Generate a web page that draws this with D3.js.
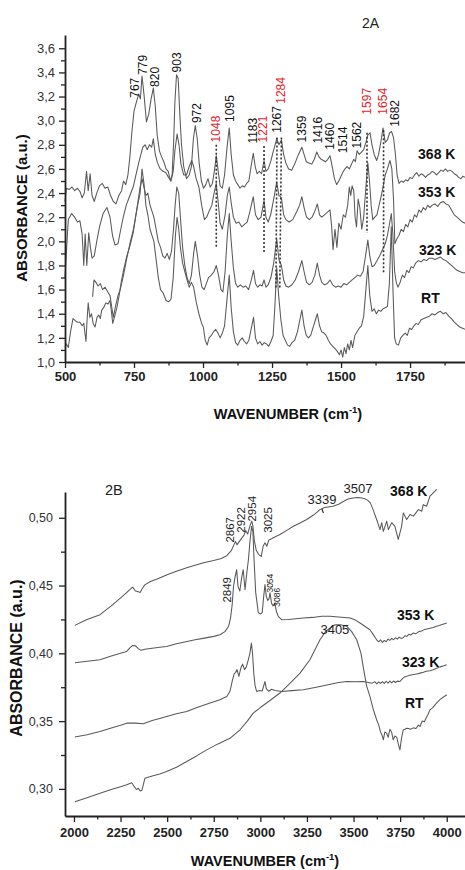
<!DOCTYPE html>
<html><head><meta charset="utf-8">
<script src="https://cdn.jsdelivr.net/npm/d3@7"></script>
<style>
body{margin:0;background:#fff}
svg{display:block}
text{font-family:"Liberation Sans",Arial,sans-serif}
</style>
</head><body>
<svg id="c" width="465" height="870"></svg>
<script>
// ---------------- Panel 2A data ----------------
const aXTicks = [500,750,1000,1250,1500,1750];
const aXMinor = [625,875,1125,1375,1625,1875];
const aYTicks = [1.0,1.2,1.4,1.6,1.8,2.0,2.2,2.4,2.6,2.8,3.0,3.2,3.4,3.6];
const aYMinor = [1.1,1.3,1.5,1.7,1.9,2.1,2.3,2.5,2.7,2.9,3.1,3.3,3.5];
const aSeriesNames = ["368 K","353 K","323 K","RT"];

const a368 = [[500,2.33],[505,2.44],[515,2.43],[525,2.45],[535,2.42],[545,2.44],[555,2.41],[562,2.36],[570,2.40],[578,2.58],[584,2.42],[591,2.56],[598,2.38],[606,2.33],[615,2.40],[625,2.46],[635,2.48],[645,2.44],[655,2.45],[665,2.38],[675,2.33],[685,2.31],[695,2.38],[705,2.42],[712,2.50],[720,2.47],[728,2.55],[735,2.70],[742,2.90],[750,3.08],[758,3.15],[767,3.22],[773,3.18],[779,3.37],[786,3.22],[795,2.99],[803,3.05],[812,3.18],[820,3.27],[827,3.12],[834,2.88],[842,2.75],[850,2.70],[858,2.66],[866,2.60],[874,2.58],[882,2.50],[888,2.55],[894,2.85],[898,3.15],[904,3.38],[910,3.35],[916,3.05],[922,2.80],[930,2.62],[940,2.52],[950,2.55],[958,2.62],[965,2.85],[972,2.96],[979,2.85],[986,2.65],[994,2.50],[1002,2.44],[1010,2.47],[1018,2.52],[1026,2.45],[1034,2.48],[1041,2.58],[1048,2.71],[1055,2.58],[1062,2.46],[1070,2.44],[1078,2.55],[1087,2.78],[1095,2.94],[1102,2.72],[1110,2.55],[1118,2.50],[1126,2.47],[1134,2.44],[1142,2.46],[1150,2.45],[1158,2.48],[1166,2.50],[1174,2.62],[1182,2.73],[1189,2.62],[1196,2.56],[1204,2.58],[1212,2.56],[1221,2.67],[1228,2.58],[1236,2.60],[1245,2.66],[1255,2.75],[1267,2.85],[1275,2.80],[1284,2.84],[1292,2.72],[1300,2.65],[1310,2.60],[1321,2.59],[1332,2.64],[1342,2.70],[1350,2.74],[1358,2.78],[1366,2.72],[1374,2.66],[1384,2.65],[1394,2.64],[1403,2.68],[1412,2.74],[1420,2.70],[1428,2.68],[1436,2.67],[1444,2.66],[1452,2.68],[1460,2.71],[1468,2.62],[1476,2.52],[1484,2.47],[1492,2.50],[1500,2.54],[1508,2.58],[1514,2.60],[1522,2.62],[1530,2.60],[1538,2.64],[1546,2.68],[1552,2.66],[1558,2.75],[1566,2.72],[1574,2.74],[1582,2.76],[1590,2.82],[1597,2.88],[1605,2.90],[1612,2.80],[1620,2.72],[1629,2.67],[1636,2.72],[1644,2.82],[1652,2.94],[1660,2.82],[1668,2.84],[1676,2.90],[1683,2.91],[1690,2.86],[1697,2.72],[1703,2.55],[1710,2.48],[1718,2.50],[1726,2.49],[1734,2.51],[1742,2.50],[1750,2.53],[1758,2.52],[1766,2.55],[1774,2.57],[1782,2.54],[1790,2.56],[1798,2.55],[1806,2.53],[1814,2.55],[1822,2.56],[1830,2.58],[1838,2.57],[1846,2.55],[1854,2.57],[1862,2.59],[1870,2.58],[1878,2.60],[1886,2.58],[1894,2.59],[1902,2.58],[1910,2.56],[1918,2.55],[1926,2.53],[1934,2.52],[1942,2.54],[1950,2.53]];

const a353 = [[500,1.70],[506,1.95],[512,2.18],[524,2.23],[535,2.20],[545,2.16],[554,2.17],[562,2.06],[568,1.80],[573,2.06],[579,1.80],[586,2.07],[592,1.95],[598,1.86],[606,1.88],[615,2.00],[625,2.12],[638,2.23],[652,2.28],[663,2.20],[672,2.05],[681,1.97],[692,1.98],[702,2.10],[711,2.20],[722,2.30],[735,2.38],[747,2.45],[757,2.55],[767,2.65],[775,2.72],[782,2.78],[790,2.80],[798,2.76],[806,2.80],[814,2.78],[820,2.85],[827,2.72],[835,2.65],[845,2.60],[855,2.58],[865,2.57],[875,2.53],[884,2.50],[892,2.58],[898,2.75],[906,2.89],[913,2.80],[920,2.64],[930,2.55],[940,2.55],[950,2.62],[959,2.67],[966,2.62],[975,2.52],[985,2.45],[995,2.30],[1005,2.18],[1013,2.20],[1022,2.25],[1032,2.30],[1040,2.40],[1048,2.48],[1055,2.32],[1062,2.15],[1070,2.10],[1080,2.22],[1088,2.38],[1095,2.45],[1102,2.32],[1110,2.20],[1120,2.15],[1130,2.16],[1140,2.12],[1150,2.14],[1160,2.16],[1170,2.25],[1182,2.37],[1190,2.22],[1200,2.18],[1210,2.20],[1221,2.34],[1228,2.20],[1236,2.16],[1245,2.22],[1256,2.35],[1267,2.49],[1275,2.38],[1284,2.36],[1292,2.22],[1300,2.18],[1312,2.16],[1325,2.18],[1340,2.25],[1350,2.30],[1358,2.37],[1366,2.28],[1375,2.20],[1385,2.18],[1395,2.20],[1405,2.25],[1414,2.31],[1422,2.22],[1430,2.20],[1440,2.22],[1450,2.24],[1460,2.26],[1466,2.12],[1471,1.93],[1478,2.10],[1485,1.95],[1492,2.15],[1500,2.10],[1508,2.22],[1516,2.20],[1524,2.30],[1530,2.45],[1535,2.38],[1540,2.46],[1546,2.42],[1551,2.20],[1556,2.12],[1562,2.35],[1568,2.28],[1575,2.10],[1582,2.20],[1590,2.45],[1597,2.65],[1603,2.50],[1609,2.30],[1615,2.18],[1622,2.20],[1630,2.22],[1638,2.30],[1646,2.38],[1652,2.45],[1660,2.55],[1668,2.60],[1677,2.67],[1684,2.60],[1690,2.35],[1695,1.98],[1702,2.02],[1710,2.05],[1718,2.10],[1726,2.08],[1734,2.14],[1742,2.12],[1750,2.18],[1758,2.16],[1766,2.22],[1774,2.20],[1782,2.26],[1790,2.24],[1798,2.28],[1806,2.26],[1814,2.30],[1822,2.28],[1830,2.30],[1840,2.31],[1850,2.29],[1860,2.32],[1870,2.33],[1880,2.31],[1890,2.30],[1900,2.26],[1910,2.22],[1920,2.20],[1930,2.18],[1940,2.16],[1950,2.15]];

const a323 = [[600,1.54],[605,1.68],[612,1.66],[620,1.63],[628,1.65],[636,1.60],[645,1.62],[655,1.58],[663,1.55],[669,1.46],[675,1.37],[682,1.45],[692,1.55],[700,1.60],[712,1.72],[723,1.85],[735,1.98],[747,2.09],[757,2.22],[765,2.34],[772,2.45],[779,2.52],[786,2.45],[793,2.38],[800,2.40],[808,2.30],[815,2.25],[822,2.20],[830,2.10],[838,2.00],[846,1.95],[854,1.88],[862,1.86],[870,1.90],[878,1.85],[886,1.92],[893,2.10],[899,2.30],[905,2.45],[912,2.40],[918,2.20],[926,1.95],[934,1.80],[942,1.70],[950,1.65],[958,1.72],[966,1.90],[972,2.00],[980,1.88],[988,1.72],[996,1.62],[1004,1.60],[1012,1.65],[1020,1.70],[1030,1.72],[1040,1.75],[1048,1.80],[1056,1.72],[1065,1.60],[1072,1.58],[1080,1.75],[1088,2.05],[1095,2.23],[1102,2.00],[1110,1.78],[1118,1.65],[1126,1.62],[1135,1.64],[1145,1.62],[1155,1.63],[1165,1.60],[1175,1.68],[1183,1.76],[1190,1.65],[1198,1.62],[1206,1.64],[1214,1.63],[1221,1.68],[1228,1.62],[1236,1.64],[1246,1.70],[1256,1.82],[1267,2.02],[1275,1.85],[1284,1.80],[1292,1.68],[1300,1.63],[1310,1.62],[1322,1.64],[1334,1.68],[1346,1.75],[1358,1.84],[1366,1.75],[1375,1.66],[1385,1.64],[1395,1.66],[1405,1.72],[1414,1.82],[1422,1.72],[1430,1.66],[1440,1.64],[1450,1.65],[1460,1.68],[1470,1.64],[1480,1.62],[1490,1.63],[1500,1.62],[1510,1.65],[1520,1.64],[1530,1.66],[1540,1.68],[1550,1.70],[1560,1.72],[1570,1.71],[1580,1.75],[1590,1.90],[1597,2.01],[1604,1.88],[1612,1.79],[1620,1.80],[1630,1.84],[1640,1.88],[1650,1.93],[1660,1.98],[1668,2.05],[1676,2.15],[1682,2.23],[1688,2.05],[1694,1.75],[1700,1.66],[1706,1.62],[1714,1.66],[1722,1.72],[1730,1.70],[1738,1.76],[1746,1.74],[1754,1.79],[1762,1.78],[1770,1.82],[1780,1.84],[1790,1.83],[1800,1.85],[1810,1.84],[1820,1.86],[1830,1.86],[1840,1.85],[1850,1.86],[1860,1.87],[1870,1.85],[1880,1.84],[1890,1.82],[1900,1.80],[1910,1.78],[1920,1.76],[1930,1.75],[1940,1.74],[1950,1.74]];

const aRT = [[500,1.12],[505,1.15],[512,1.12],[520,1.25],[529,1.36],[538,1.34],[546,1.33],[554,1.33],[562,1.30],[568,1.32],[576,1.17],[580,1.35],[584,1.49],[590,1.37],[596,1.40],[602,1.32],[609,1.29],[616,1.37],[622,1.39],[628,1.36],[633,1.43],[640,1.45],[648,1.49],[656,1.48],[663,1.51],[668,1.42],[673,1.32],[680,1.38],[688,1.45],[696,1.55],[705,1.68],[714,1.78],[723,1.87],[735,1.96],[747,2.07],[757,2.22],[765,2.32],[772,2.40],[779,2.60],[786,2.48],[793,2.30],[800,2.22],[808,2.10],[815,2.05],[822,2.00],[830,1.85],[838,1.70],[846,1.60],[856,1.57],[866,1.51],[876,1.50],[884,1.52],[892,1.70],[900,2.05],[906,2.20],[912,2.10],[918,1.95],[926,1.82],[934,1.75],[942,1.68],[950,1.62],[958,1.66],[966,1.62],[975,1.50],[985,1.40],[995,1.32],[1001,1.29],[1008,1.18],[1015,1.14],[1022,1.20],[1030,1.22],[1038,1.25],[1046,1.27],[1054,1.24],[1062,1.20],[1070,1.24],[1078,1.30],[1086,1.50],[1095,1.72],[1102,1.45],[1110,1.25],[1118,1.16],[1126,1.14],[1134,1.18],[1142,1.20],[1150,1.17],[1158,1.15],[1166,1.18],[1175,1.28],[1183,1.37],[1190,1.20],[1198,1.15],[1206,1.17],[1214,1.14],[1222,1.16],[1230,1.15],[1238,1.13],[1246,1.17],[1254,1.22],[1260,1.45],[1267,1.78],[1274,1.55],[1282,1.35],[1290,1.22],[1298,1.18],[1306,1.14],[1314,1.13],[1322,1.16],[1332,1.18],[1342,1.25],[1350,1.34],[1358,1.43],[1366,1.30],[1374,1.22],[1382,1.20],[1390,1.22],[1398,1.28],[1406,1.34],[1414,1.40],[1422,1.30],[1430,1.25],[1438,1.24],[1446,1.22],[1454,1.18],[1462,1.15],[1470,1.13],[1478,1.11],[1486,1.09],[1494,1.06],[1500,1.10],[1506,1.04],[1512,1.12],[1518,1.07],[1524,1.15],[1530,1.10],[1536,1.18],[1542,1.12],[1550,1.22],[1558,1.25],[1566,1.28],[1574,1.30],[1582,1.38],[1590,1.60],[1597,1.80],[1604,1.55],[1612,1.42],[1620,1.44],[1628,1.40],[1636,1.43],[1644,1.42],[1652,1.44],[1660,1.45],[1668,1.46],[1675,1.65],[1682,2.12],[1688,1.60],[1694,1.20],[1700,1.15],[1708,1.14],[1716,1.20],[1724,1.22],[1732,1.24],[1740,1.22],[1748,1.28],[1756,1.27],[1764,1.30],[1772,1.32],[1780,1.31],[1790,1.35],[1800,1.36],[1810,1.37],[1820,1.38],[1830,1.40],[1840,1.39],[1850,1.41],[1860,1.42],[1870,1.40],[1880,1.41],[1890,1.38],[1900,1.36],[1910,1.33],[1920,1.31],[1930,1.29],[1940,1.28],[1950,1.27]];

// peak annotations: [label, placed at wavenumber, absorbance at label foot]
const aPeaksBlack = [[767,754,3.19],[779,783,3.38],[820,826,3.28],[903,906,3.40],[972,978,2.98],[1095,1098,2.99],[1183,1181,2.81],[1267,1268,2.90],[1359,1359,2.82],[1416,1417,2.81],[1460,1460,2.76],[1514,1507,2.73],[1562,1558,2.77],[1682,1696,2.95]];
const aPeaksRed = [[1048,1047,2.82],[1221,1217,2.82],[1284,1283,3.14],[1597,1594,3.05],[1654,1652,3.05]];
// dotted guides: [wn top, abs top, wn bottom, abs bottom]
const aGuides = [[1048,2.80,1048,1.95],[1221,2.79,1221,1.91],[1268,2.86,1264,1.60],[1284,2.86,1278,1.60],[1594,2.90,1594,2.07],[1654,2.92,1654,1.74]];
const aSeriesLabelAt = [[1779,2.68],[1779,2.366],[1782,1.886],[1790,1.49]];

// ---------------- Panel 2B data ----------------
const bXTicks = [2000,2250,2500,2750,3000,3250,3500,3750,4000];
const bXMinor = [2125,2375,2625,2875,3125,3375,3625,3875];
const bYTicks = [0.30,0.35,0.40,0.45,0.50];
const bYMinor = [0.325,0.375,0.425,0.475];

const b368 = [[2005,0.4206],[2070,0.4250],[2140,0.4285],[2200,0.4350],[2260,0.4420],[2300,0.4470],[2315,0.4488],[2330,0.4460],[2345,0.4455],[2355,0.4448],[2365,0.4475],[2380,0.4505],[2410,0.4530],[2450,0.4550],[2500,0.4580],[2550,0.4605],[2605,0.4632],[2650,0.4650],[2700,0.4670],[2750,0.4685],[2790,0.4700],[2820,0.4720],[2845,0.4760],[2858,0.4800],[2867,0.4825],[2875,0.4800],[2885,0.4820],[2900,0.4850],[2912,0.4870],[2922,0.4905],[2932,0.4880],[2940,0.4920],[2948,0.4955],[2954,0.4975],[2960,0.4940],[2968,0.4830],[2978,0.4760],[2990,0.4730],[3005,0.4715],[3015,0.4790],[3025,0.4815],[3035,0.4790],[3045,0.4835],[3060,0.4845],[3080,0.4860],[3105,0.4876],[3140,0.4905],[3177,0.4937],[3210,0.4960],[3249,0.4987],[3285,0.5020],[3320,0.5060],[3345,0.5075],[3390,0.5085],[3420,0.5100],[3445,0.5120],[3470,0.5138],[3499,0.5146],[3520,0.5150],[3540,0.5148],[3560,0.5140],[3575,0.5130],[3590,0.5110],[3605,0.5060],[3615,0.5020],[3624,0.4987],[3642,0.4913],[3651,0.4964],[3660,0.4900],[3678,0.4975],[3687,0.4913],[3705,0.4964],[3722,0.4937],[3740,0.4840],[3758,0.4937],[3767,0.5036],[3785,0.4987],[3803,0.5024],[3821,0.5012],[3848,0.5060],[3866,0.5048],[3874,0.5097],[3892,0.5085],[3910,0.5159],[3928,0.5184],[3946,0.5210]];

const b353 = [[2005,0.3930],[2070,0.3942],[2140,0.3953],[2200,0.3980],[2250,0.4000],[2283,0.4014],[2300,0.4040],[2315,0.4058],[2330,0.4055],[2345,0.4035],[2360,0.4022],[2380,0.4030],[2420,0.4038],[2460,0.4045],[2497,0.4050],[2550,0.4070],[2600,0.4085],[2650,0.4100],[2700,0.4112],[2750,0.4125],[2783,0.4137],[2810,0.4160],[2830,0.4200],[2840,0.4260],[2849,0.4360],[2856,0.4494],[2864,0.4560],[2873,0.4617],[2880,0.4494],[2890,0.4460],[2900,0.4560],[2908,0.4617],[2918,0.4470],[2928,0.4600],[2936,0.4690],[2944,0.4820],[2953,0.4937],[2960,0.4900],[2966,0.4700],[2975,0.4450],[2989,0.4300],[3000,0.4290],[3010,0.4300],[3018,0.4420],[3025,0.4507],[3032,0.4420],[3040,0.4390],[3046,0.4400],[3052,0.4447],[3060,0.4370],[3068,0.4350],[3078,0.4370],[3086,0.4310],[3096,0.4273],[3114,0.4248],[3150,0.4250],[3190,0.4255],[3230,0.4260],[3280,0.4265],[3330,0.4273],[3374,0.4273],[3420,0.4268],[3482,0.4260],[3510,0.4245],[3535,0.4224],[3560,0.4200],[3588,0.4174],[3605,0.4140],[3624,0.4100],[3635,0.4085],[3645,0.4100],[3655,0.4080],[3665,0.4095],[3675,0.4085],[3685,0.4105],[3695,0.4095],[3705,0.4110],[3715,0.4100],[3725,0.4115],[3735,0.4105],[3745,0.4120],[3755,0.4110],[3766,0.4115],[3776,0.4130],[3786,0.4125],[3796,0.4140],[3806,0.4135],[3821,0.4150],[3835,0.4145],[3850,0.4160],[3865,0.4165],[3880,0.4175],[3895,0.4180],[3910,0.4185],[3928,0.4190],[3945,0.4200],[3960,0.4205],[3980,0.4215],[4000,0.4224]];

const b323 = [[2005,0.3382],[2070,0.3400],[2140,0.3423],[2200,0.3450],[2250,0.3470],[2283,0.3485],[2330,0.3485],[2372,0.3480],[2420,0.3505],[2460,0.3520],[2497,0.3534],[2550,0.3555],[2605,0.3571],[2660,0.3600],[2730,0.3633],[2780,0.3655],[2820,0.3682],[2837,0.3720],[2850,0.3800],[2860,0.3850],[2868,0.3860],[2875,0.3880],[2885,0.3830],[2895,0.3890],[2905,0.3920],[2915,0.3880],[2925,0.3900],[2935,0.3950],[2944,0.4000],[2952,0.4076],[2958,0.4000],[2965,0.3850],[2972,0.3760],[2980,0.3719],[2995,0.3725],[3010,0.3722],[3018,0.3760],[3025,0.3792],[3032,0.3740],[3045,0.3720],[3060,0.3735],[3080,0.3725],[3114,0.3719],[3170,0.3725],[3230,0.3731],[3300,0.3750],[3370,0.3770],[3420,0.3785],[3463,0.3792],[3510,0.3790],[3552,0.3792],[3580,0.3785],[3600,0.3780],[3615,0.3790],[3625,0.3775],[3635,0.3790],[3645,0.3778],[3655,0.3792],[3665,0.3778],[3675,0.3794],[3685,0.3780],[3695,0.3795],[3705,0.3782],[3715,0.3796],[3725,0.3785],[3735,0.3795],[3749,0.3792],[3760,0.3810],[3772,0.3825],[3785,0.3830],[3800,0.3838],[3815,0.3842],[3830,0.3845],[3845,0.3850],[3857,0.3854],[3875,0.3860],[3890,0.3868],[3910,0.3872],[3928,0.3879],[3945,0.3890],[3965,0.3900],[3985,0.3908],[4000,0.3916]];

const bRT = [[2005,0.2906],[2070,0.2935],[2140,0.2968],[2200,0.2995],[2250,0.3015],[2283,0.3030],[2300,0.3040],[2310,0.3045],[2322,0.3020],[2335,0.2995],[2345,0.3005],[2355,0.2985],[2365,0.2990],[2381,0.3079],[2420,0.3095],[2460,0.3110],[2497,0.3128],[2550,0.3160],[2605,0.3202],[2660,0.3245],[2712,0.3288],[2770,0.3330],[2837,0.3373],[2891,0.3436],[2930,0.3500],[2962,0.3559],[3000,0.3600],[3050,0.3650],[3105,0.3707],[3160,0.3780],[3213,0.3854],[3266,0.3953],[3320,0.4100],[3350,0.4160],[3374,0.4187],[3395,0.4208],[3409,0.4211],[3430,0.4210],[3463,0.4200],[3490,0.4160],[3517,0.4100],[3540,0.4000],[3552,0.3900],[3570,0.3760],[3588,0.3682],[3605,0.3590],[3624,0.3510],[3635,0.3470],[3645,0.3420],[3652,0.3400],[3660,0.3362],[3668,0.3420],[3678,0.3410],[3686,0.3380],[3695,0.3440],[3704,0.3420],[3713,0.3362],[3722,0.3390],[3732,0.3380],[3742,0.3320],[3749,0.3288],[3758,0.3380],[3767,0.3436],[3776,0.3440],[3785,0.3448],[3795,0.3445],[3805,0.3440],[3821,0.3450],[3835,0.3445],[3848,0.3470],[3857,0.3460],[3868,0.3500],[3880,0.3495],[3892,0.3530],[3900,0.3550],[3910,0.3583],[3925,0.3600],[3945,0.3633],[3965,0.3660],[3985,0.3680],[4000,0.3694]];

const bPeaksV = [[2867,2837,0.4817],[2922,2896,0.4890],[2954,2955,0.4972],[3025,3041,0.4890],[2849,2821,0.4374]];
const bPeaksSmall = [[3054,3052,0.4448],[3086,3089,0.4344]];
const bPeaksH = [[3339,3331,0.5098],[3507,3524,0.5180],[3405,3400,0.4145]];
const bSeriesLabelAt = [[3696,0.5157],[3733,0.4248],[3760,0.3900],[3776,0.3598]];

// ---------------- drawing ----------------
const svg = d3.select("#c");
const LINE = "#595959";
const RED = "#e3242b";

function drawPanel(o){
  const g = svg.append("g");
  const line = d3.line().x(d=>o.x(d[0])).y(d=>o.y(d[1]));
  o.series.forEach(s=>{
    g.append("path").datum(s).attr("d",line)
      .attr("fill","none").attr("stroke",LINE).attr("stroke-width",1.05).attr("stroke-linejoin","round");
  });
  const mx = g.append("g").attr("transform",`translate(0,${o.y.range()[0]})`)
    .call(d3.axisBottom(o.x).tickValues(o.xMinor).tickSize(3.5).tickSizeOuter(0).tickFormat(""));
  mx.select(".domain").remove();
  const my = g.append("g").attr("transform",`translate(${o.x.range()[0]},0)`)
    .call(d3.axisLeft(o.y).tickValues(o.yMinor).tickSize(4).tickSizeOuter(0).tickFormat(""));
  my.select(".domain").remove();
  const ax = g.append("g").attr("transform",`translate(0,${o.y.range()[0]})`)
    .call(d3.axisBottom(o.x).tickValues(o.xTicks).tickSize(6).tickSizeOuter(0).tickPadding(o.xPad).tickFormat(d3.format("d")));
  const ay = g.append("g").attr("transform",`translate(${o.x.range()[0]},0)`)
    .call(d3.axisLeft(o.y).tickValues(o.yTicks).tickSize(6).tickSizeOuter(0).tickPadding(o.yPad)
      .tickFormat(d=>d3.format(o.yFmt)(d).replace(".",",")));
  [ax,ay,mx,my].forEach(a=>{
    a.selectAll(".tick line").attr("stroke","#222").attr("stroke-width",1.3);
    a.select(".domain").attr("stroke","#222").attr("stroke-width",1.8);
  });
  ax.selectAll("text").attr("font-size",o.xFont).attr("font-weight","bold").attr("fill","#222")
    .style("font-family",'"Liberation Sans",Arial,sans-serif');
  ay.selectAll("text").attr("font-size",o.yFont).attr("fill","#333")
    .style("font-family",'"Liberation Sans",Arial,sans-serif');
  return g;
}

// Panel A
const xA = d3.scaleLinear().domain([500,1949]).range([65,465]);
const yA = d3.scaleLinear().domain([1.0,3.71]).range([362,35]);
const gA = drawPanel({x:xA,y:yA,series:[a368,a353,a323,aRT],xTicks:aXTicks,xMinor:aXMinor,yTicks:aYTicks,yMinor:aYMinor,
  xPad:4,yPad:4,yFmt:".1f",xFont:13,yFont:13});

aGuides.forEach(d=>{
  gA.append("line").attr("x1",xA(d[0])).attr("y1",yA(d[1])).attr("x2",xA(d[2])).attr("y2",yA(d[3]))
    .attr("stroke","#333").attr("stroke-width",1.6).attr("stroke-dasharray","2,2");
});
function vLabel(g,x,y,txt,color,size){
  g.append("text").attr("transform",`translate(${x+size*0.36},${y}) rotate(-90)`)
    .attr("font-size",size).attr("fill",color).text(txt);
}
aPeaksBlack.forEach(d=>vLabel(gA,xA(d[1]),yA(d[2]),d[0],"#111",12));
aPeaksRed.forEach(d=>vLabel(gA,xA(d[1]),yA(d[2]),d[0],RED,12));
aSeriesNames.forEach((n,i)=>{
  gA.append("text").attr("x",xA(aSeriesLabelAt[i][0])).attr("y",yA(aSeriesLabelAt[i][1]))
    .attr("font-size",14).attr("font-weight","bold").attr("fill","#111").text(n);
});
gA.append("text").attr("x",362).attr("y",28).attr("font-size",14).attr("fill","#222").text("2A");

function xTitle(g,cx,by){
  const t = g.append("text").attr("x",cx).attr("y",by).attr("text-anchor","middle")
    .attr("font-size",14.5).attr("font-weight","bold").attr("fill","#111");
  t.append("tspan").text("WAVENUMBER (cm");
  t.append("tspan").attr("dy",-6).attr("font-size",9.5).text("-1");
  t.append("tspan").attr("dy",6).text(")");
}
function yTitle(g,bx,cy,size){
  g.append("text").attr("transform",`translate(${bx},${cy}) rotate(-90)`).attr("text-anchor","middle")
    .attr("font-size",size).attr("font-weight","bold").attr("fill","#111").text("ABSORBANCE (a.u.)");
}
xTitle(gA,288,419);
yTitle(gA,27,208,15);

// Panel B
const xB = d3.scaleLinear().domain([1952,4098]).range([65,465]);
const yB = d3.scaleLinear().domain([0.280,0.519]).range([816,492]);
const gB = drawPanel({x:xB,y:yB,series:[b368,b353,b323,bRT],xTicks:bXTicks,xMinor:bXMinor,yTicks:bYTicks,yMinor:bYMinor,
  xPad:6,yPad:6,yFmt:".2f",xFont:13,yFont:12.5});
bPeaksV.forEach(d=>vLabel(gB,xB(d[1]),yB(d[2]),d[0],"#222",11.5));
bPeaksSmall.forEach(d=>vLabel(gB,xB(d[1]),yB(d[2]),d[0],"#222",8.5));
bPeaksH.forEach(d=>{
  gB.append("text").attr("x",xB(d[1])).attr("y",yB(d[2])).attr("text-anchor","middle")
    .attr("font-size",13).attr("fill","#222").text(d[0]);
});
gB.append("line").attr("x1",xB(3330)).attr("y1",yB(0.5068)).attr("x2",xB(3338)).attr("y2",yB(0.5035))
  .attr("stroke","#333").attr("stroke-width",1.2);
aSeriesNames.forEach((n,i)=>{
  gB.append("text").attr("x",xB(bSeriesLabelAt[i][0])).attr("y",yB(bSeriesLabelAt[i][1]))
    .attr("font-size",14).attr("font-weight","bold").attr("fill","#111").text(n);
});
gB.append("text").attr("x",105).attr("y",495).attr("font-size",14.5).attr("fill","#222").text("2B");
xTitle(gB,265,866);
yTitle(gB,22,658,16);
</script>
</body></html>
